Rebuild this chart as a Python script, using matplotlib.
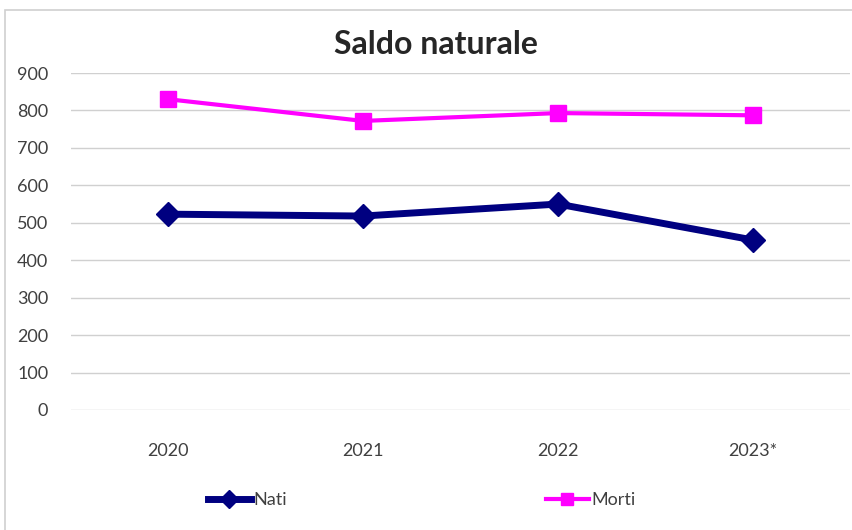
import matplotlib
matplotlib.use("Agg")
import matplotlib.pyplot as plt
from matplotlib.patches import Rectangle

plt.rcParams['font.family'] = ['Lato', 'DejaVu Sans']

years = ["2020", "2021", "2022", "2023*"]
nati = [523, 518, 550, 454]
morti = [830, 772, 793, 787]
yticks = [0, 100, 200, 300, 400, 500, 600, 700, 800, 900]

W, H = 853, 530
fig = plt.figure(figsize=(W / 100, H / 100), dpi=100)
fig.patch.set_facecolor("white")

# chart area border
fig.patches.append(Rectangle((5 / W, -0.05), 1.0, 1 - 10 / H + 0.05, transform=fig.transFigure,
                             fill=False, edgecolor="#d0d0d0", linewidth=1.2))

ax = fig.add_axes([70.5 / W, 1 - 410 / H, 780 / W, (410 - 73) / H])
x = list(range(len(years)))
ax.plot(x, nati, color="#000080", linewidth=5, marker="D", markersize=12, label="Nati", zorder=3)
ax.plot(x, morti, color="#FF00FF", linewidth=3, marker="s", markersize=12, label="Morti", zorder=3)

ax.set_xlim(-0.5, len(years) - 0.5)
ax.set_ylim(0, 900)
ax.set_yticks(yticks)
ax.set_xticks(x)
ax.set_xticklabels(years)
ax.grid(axis="y", color="#d0d0d0", linewidth=1)
ax.set_axisbelow(True)
for s in ax.spines.values():
    s.set_visible(False)
ax.tick_params(axis="both", length=0, labelsize=13, colors="#404040")
ax.tick_params(axis="y", pad=16)
ax.tick_params(axis="x", pad=24)
ax.set_facecolor("none")

fig.text(436 / W, 1 - 45 / H, "Saldo naturale", ha="center", va="center",
         fontsize=23, fontweight="bold", color="#262626")

handles, labels = ax.get_legend_handles_labels()
leg = fig.legend(handles, labels, loc="center left", bbox_to_anchor=(192 / W, 1 - 500 / H), ncol=2,
                 frameon=False, fontsize=13, columnspacing=14.35, handlelength=2.35,
                 handletextpad=0.15, labelcolor="#404040")
for h in leg.legend_handles:
    h.set_markersize(9)

fig.savefig("out.png", dpi=100, facecolor="white")
